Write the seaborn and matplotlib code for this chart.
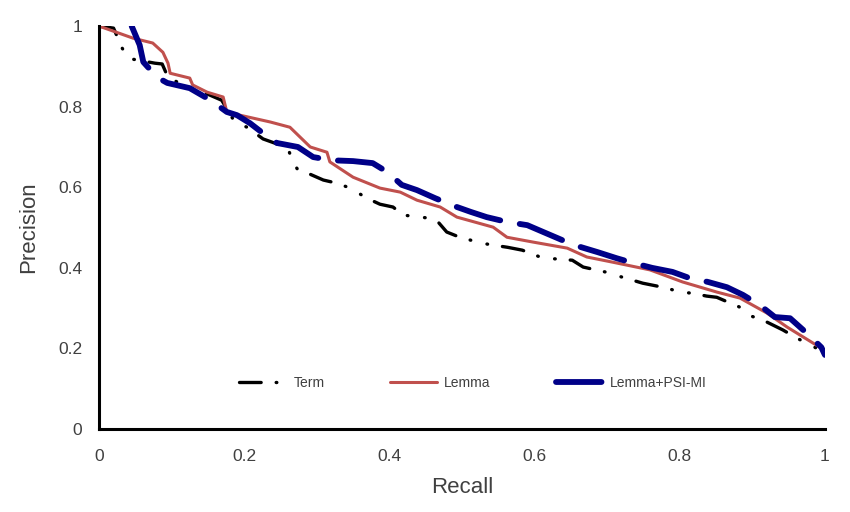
import matplotlib
matplotlib.use("Agg")
import matplotlib.pyplot as plt
import seaborn as sns
import pandas as pd

# --- Daten ---
term_recall = [0.0, 0.02, 0.032, 0.04, 0.077, 0.087, 0.095, 0.12, 0.146, 0.169, 0.187,
               0.204, 0.226, 0.26, 0.267, 0.274, 0.29, 0.309, 0.328, 0.346, 0.369,
               0.387, 0.405, 0.419, 0.452, 0.467, 0.479, 0.497, 0.528, 0.545, 0.563,
               0.583, 0.612, 0.632, 0.652, 0.667, 0.697, 0.715, 0.734, 0.749, 0.782,
               0.8, 0.818, 0.837, 0.851, 0.886, 0.899, 0.915, 0.942, 0.961, 1.0]
term_prec = [1.0, 0.995, 0.945, 0.92, 0.908, 0.906, 0.873, 0.85, 0.834, 0.816, 0.762,
             0.749, 0.72, 0.698, 0.663, 0.643, 0.633, 0.618, 0.61, 0.598, 0.573,
             0.558, 0.551, 0.531, 0.524, 0.514, 0.489, 0.476, 0.461, 0.456, 0.451,
             0.444, 0.424, 0.422, 0.419, 0.402, 0.39, 0.38, 0.37, 0.362, 0.35,
             0.34, 0.337, 0.33, 0.327, 0.3, 0.28, 0.27, 0.246, 0.226, 0.19]

lemma_recall = [0.0, 0.047, 0.074, 0.088, 0.095, 0.098, 0.125, 0.129, 0.149, 0.171,
                0.176, 0.194, 0.236, 0.263, 0.291, 0.314, 0.318, 0.35, 0.387, 0.415,
                0.438, 0.47, 0.493, 0.543, 0.562, 0.598, 0.645, 0.672, 0.708, 0.759,
                0.804, 0.851, 0.883, 0.92, 0.948, 0.993, 1.0]
lemma_prec = [1.0, 0.97, 0.958, 0.935, 0.908, 0.883, 0.871, 0.854, 0.836, 0.824,
              0.787, 0.779, 0.762, 0.749, 0.7, 0.687, 0.663, 0.625, 0.598, 0.588,
              0.568, 0.551, 0.526, 0.501, 0.476, 0.464, 0.449, 0.427, 0.414, 0.395,
              0.365, 0.34, 0.325, 0.288, 0.253, 0.203, 0.196]

psi_recall = [0.045, 0.056, 0.061, 0.08, 0.094, 0.125, 0.149, 0.163, 0.176, 0.19,
              0.208, 0.226, 0.245, 0.274, 0.295, 0.321, 0.35, 0.377, 0.397, 0.417,
              0.438, 0.463, 0.49, 0.512, 0.534, 0.562, 0.59, 0.612, 0.638, 0.663,
              0.687, 0.713, 0.736, 0.762, 0.79, 0.81, 0.839, 0.865, 0.887, 0.91,
              0.931, 0.952, 0.975, 0.995, 1.0]
psi_prec = [1.0, 0.953, 0.911, 0.873, 0.859, 0.846, 0.821, 0.804, 0.787, 0.779,
            0.759, 0.734, 0.71, 0.7, 0.675, 0.667, 0.665, 0.66, 0.638, 0.606,
            0.593, 0.573, 0.553, 0.539, 0.526, 0.514, 0.506, 0.489, 0.469, 0.452,
            0.439, 0.424, 0.412, 0.4, 0.39, 0.377, 0.365, 0.352, 0.333, 0.308,
            0.278, 0.275, 0.238, 0.203, 0.184]

x_ticks = [0, 0.2, 0.4, 0.6, 0.8, 1]
x_tick_labels = ["0", "0.2", "0.4", "0.6", "0.8", "1"]
y_ticks = [0, 0.2, 0.4, 0.6, 0.8, 1]
y_tick_labels = ["0", "0.2", "0.4", "0.6", "0.8", "1"]

sns.set_style("white")
plt.rcParams["font.family"] = ["Liberation Sans", "DejaVu Sans"]

fig = plt.figure(figsize=(8.5, 5.12), dpi=100)
ax = fig.add_axes([0.1165, 0.162, 0.854, 0.787])

df_term = pd.DataFrame({"Recall": term_recall, "Precision": term_prec})
df_lemma = pd.DataFrame({"Recall": lemma_recall, "Precision": lemma_prec})
df_psi = pd.DataFrame({"Recall": psi_recall, "Precision": psi_prec})

sns.lineplot(data=df_term, x="Recall", y="Precision", ax=ax, color="black",
             linewidth=2.4, label="Term", sort=False, estimator=None,
             linestyle=(0, (6.5, 4.5, 0.2, 5.0, 0.2, 4.5)),
             dash_capstyle="round")
sns.lineplot(data=df_lemma, x="Recall", y="Precision", ax=ax, color="#C0504D",
             linewidth=2.2, label="Lemma", sort=False, estimator=None)
sns.lineplot(data=df_psi, x="Recall", y="Precision", ax=ax, color="#000088",
             linewidth=4.2, label="Lemma+PSI-MI", sort=False, estimator=None,
             linestyle=(0, (7.8, 3.4)), dash_capstyle="round")

ax.set_xlim(0, 1)
ax.set_ylim(0, 1)
ax.set_xticks(x_ticks)
ax.set_xticklabels(x_tick_labels)
ax.set_yticks(y_ticks)
ax.set_yticklabels(y_tick_labels)

for side in ["top", "right"]:
    ax.spines[side].set_visible(False)
for side in ["left", "bottom"]:
    ax.spines[side].set_linewidth(2.2)
    ax.spines[side].set_color("black")

ax.tick_params(axis="both", direction="out", length=4, width=2, color="black",
               labelsize=12.5, labelcolor="#404040", pad=10)
ax.tick_params(axis="y", pad=8)

ax.set_xlabel("Recall", fontsize=16, color="#404040", labelpad=10)
ax.set_ylabel("Precision", fontsize=16, color="#404040", labelpad=14)

leg = ax.legend(loc="center", bbox_to_anchor=(0.515, 0.115), ncol=3, frameon=False,
                fontsize=10, handlelength=3.4, columnspacing=4.7, handletextpad=0.5)
for t in leg.get_texts():
    t.set_color("#404040")

fig.savefig("out.png", dpi=100)
